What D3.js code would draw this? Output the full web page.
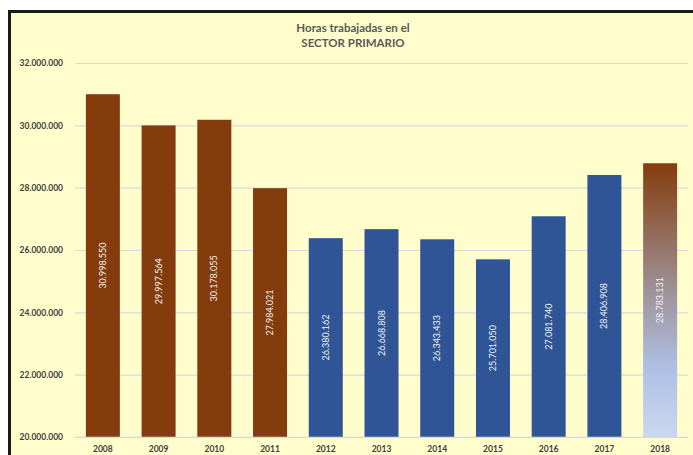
<!DOCTYPE html>
<html>
<head>
<meta charset="utf-8">
<script src="https://cdn.jsdelivr.net/npm/d3@7"></script>
<style>
  html, body { margin: 0; padding: 0; background: #ffffff; }
  svg { display: block; }
</style>
</head>
<body>
<svg id="chart" width="693" height="455"></svg>
<script>
const years = ["2008","2009","2010","2011","2012","2013","2014","2015","2016","2017","2018"];
const hours = [30998550, 29997564, 30178055, 27984021, 26380162, 26668808, 26343433, 25701050, 27081740, 28406908, 28783131];
const labels = ["30.998.550","29.997.564","30.178.055","27.984.021","26.380.162","26.668.808","26.343.433","25.701.050","27.081.740","28.406.908","28.783.131"];
const groups = ["brown","brown","brown","brown","blue","blue","blue","blue","blue","blue","gradient"];
const yTicks = [20000000, 22000000, 24000000, 26000000, 28000000, 30000000, 32000000];
const titleLines = ["Horas trabajadas en el", "SECTOR PRIMARIO"];

const svg = d3.select("#chart");
const W = 693, H = 455;
const font = "Lato, 'Liberation Sans', sans-serif";

// chart background + frame
svg.append("rect").attr("x", 8).attr("y", 10).attr("width", W - 8).attr("height", H - 10).attr("fill", "#FFFDCC");
svg.append("path").attr("d", `M9.5,${H} V11.5 H${W}`).attr("fill", "none").attr("stroke", "#1a1a1a").attr("stroke-width", 3);

const x = d3.scaleBand().domain(years).range([75, 688]).paddingInner(0.39).paddingOuter(0.195);
const y = d3.scaleLinear().domain([20000000, 32000000]).range([437, 63]);

const defs = svg.append("defs");
const grad = defs.append("linearGradient").attr("id", "g2018").attr("x1", 0).attr("y1", 0).attr("x2", 0).attr("y2", 1);
grad.append("stop").attr("offset", "0%").attr("stop-color", "#843C0C");
grad.append("stop").attr("offset", "45%").attr("stop-color", "#9E8F94");
grad.append("stop").attr("offset", "75%").attr("stop-color", "#ADC0E4");
grad.append("stop").attr("offset", "100%").attr("stop-color", "#CAD8EF");

const fills = { brown: "#843C0C", blue: "#2F5597", gradient: "url(#g2018)" };

// gridlines
const yAxis = d3.axisLeft(y).tickValues(yTicks).tickSize(-(688 - 75))
  .tickFormat(d => d3.format(",")(d).replace(/,/g, "."));
const gy = svg.append("g").attr("transform", "translate(75,0)").call(yAxis);
gy.select(".domain").remove();
gy.selectAll(".tick line").attr("stroke", "#D9D9D9").attr("stroke-width", 1.2);
gy.selectAll(".tick text").attr("x", -12).attr("fill", "#404040")
  .attr("font-family", font).attr("font-size", 8.5).attr("font-weight", "bold");

// bars
const data = years.map((yr, i) => ({ yr, v: hours[i], label: labels[i], g: groups[i] }));
svg.append("g").selectAll("rect").data(data).join("rect")
  .attr("x", d => x(d.yr)).attr("width", x.bandwidth())
  .attr("y", d => y(d.v)).attr("height", d => y(20000000) - y(d.v))
  .attr("fill", d => fills[d.g]);

// baseline
svg.append("line").attr("x1", 75).attr("x2", 688).attr("y1", y(20000000)).attr("y2", y(20000000))
  .attr("stroke", "#D9D9D9").attr("stroke-opacity", 0.6).attr("stroke-width", 1.2);

// value labels
svg.append("g").selectAll("text").data(data).join("text")
  .attr("transform", d => `translate(${x(d.yr) + x.bandwidth() / 2 + 3},${(y(d.v) + y(20000000)) / 2}) rotate(-90)`)
  .attr("text-anchor", "middle")
  .attr("fill", "#F2F2F2").attr("font-family", font).attr("font-size", 9)
  .text(d => d.label);

// x axis labels
const xAxis = d3.axisBottom(x).tickSize(0);
const gx = svg.append("g").attr("transform", `translate(0,${y(20000000)})`).call(xAxis);
gx.select(".domain").remove();
gx.selectAll(".tick text").attr("dy", "0.6em").attr("y", 10).attr("fill", "#404040")
  .attr("font-family", font).attr("font-size", 8.5).attr("font-weight", "bold");

// title
svg.append("g").selectAll("text").data(titleLines).join("text")
  .attr("x", 353).attr("y", (d, i) => 32 + i * 15)
  .attr("text-anchor", "middle").attr("fill", "#595959")
  .attr("font-family", font).attr("font-size", 11.5).attr("font-weight", "bold")
  .text(d => d);
</script>
</body>
</html>
